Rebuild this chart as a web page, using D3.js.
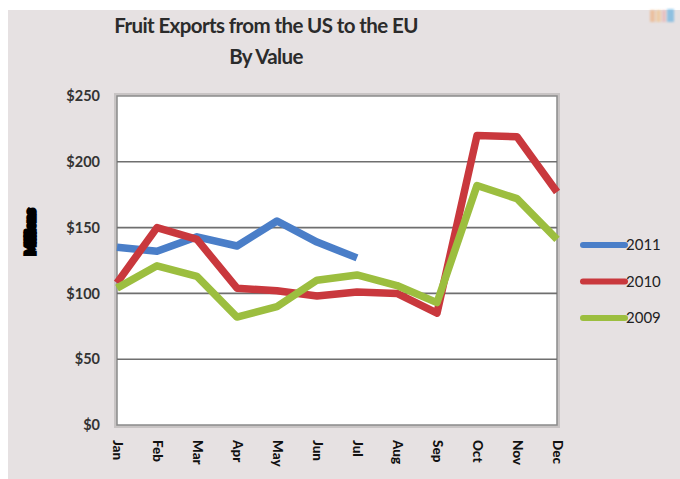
<!DOCTYPE html>
<html>
<head>
<meta charset="utf-8">
<script src="https://cdn.jsdelivr.net/npm/d3@7"></script>
<style>
  html, body { margin: 0; padding: 0; background: #ffffff; }
  svg { display: block; }
</style>
</head>
<body>
<svg id="chart" width="680" height="479"></svg>
<script>
// Monthly fruit export values (millions of dollars)
const months = ["Jan", "Feb", "Mar", "Apr", "May", "Jun", "Jul", "Aug", "Sep", "Oct", "Nov", "Dec"];
const values2011 = [135, 132, 143, 136, 155, 139, 127];
const values2010 = [108, 150, 141, 104, 102, 98, 101, 100, 85, 220, 219, 177];
const values2009 = [104, 121, 113, 82, 90, 110, 114, 106, 93, 182, 172, 141];
const seriesNames = ["2011", "2010", "2009"];
const yTicks = [0, 50, 100, 150, 200, 250];

const colors = { "2011": "#4a7ec8", "2010": "#c9383d", "2009": "#9cbe3f" };
const series = [
  { name: "2011", values: values2011 },
  { name: "2010", values: values2010 },
  { name: "2009", values: values2009 }
];

const svg = d3.select("#chart");
const W = 680, H = 479;

// Outer chart background with thin white margin on top/left
svg.append("rect").attr("x", 0).attr("y", 0).attr("width", W).attr("height", H).attr("fill", "#ffffff");
svg.append("rect").attr("x", 8).attr("y", 10).attr("width", W - 8).attr("height", H - 10).attr("fill", "#e6e1e2");

// Small logo mark in the top-right corner
const logo = svg.append("g").attr("opacity", 0.5).style("filter", "blur(1px)");
logo.append("rect").attr("x", 650).attr("y", 10).attr("width", 5).attr("height", 12).attr("fill", "#f0a060");
logo.append("rect").attr("x", 656).attr("y", 10).attr("width", 5).attr("height", 12).attr("fill", "#f4b870");
logo.append("rect").attr("x", 662).attr("y", 10).attr("width", 4).attr("height", 12).attr("fill", "#e8a0a0");
logo.append("rect").attr("x", 667).attr("y", 9).attr("width", 7).attr("height", 13).attr("fill", "#3aa0e0");

// Plot area
const plot = { left: 117, right: 557, top: 96, bottom: 425 };

const x = d3.scalePoint().domain(months).range([plot.left, plot.right]);
const y = d3.scaleLinear().domain([0, 250]).range([plot.bottom, plot.top]);

svg.append("rect")
  .attr("x", plot.left - 1).attr("y", plot.top - 1)
  .attr("width", plot.right - plot.left + 2).attr("height", plot.bottom - plot.top + 2)
  .attr("fill", "none").attr("stroke", "#c8c4c4").attr("stroke-width", 4);
svg.append("rect")
  .attr("x", plot.left).attr("y", plot.top)
  .attr("width", plot.right - plot.left).attr("height", plot.bottom - plot.top)
  .attr("fill", "#ffffff").attr("stroke", "#8a8a8a").attr("stroke-width", 1.5);

// Horizontal gridlines
svg.append("g")
  .selectAll("line")
  .data(yTicks.filter(d => d > 0 && d < 250))
  .join("line")
  .attr("x1", plot.left).attr("x2", plot.right)
  .attr("y1", d => y(d)).attr("y2", d => y(d))
  .attr("stroke", "#6f6f6f").attr("stroke-width", 1.6);

// Y axis tick labels
const yAxis = d3.axisLeft(y).tickValues(yTicks).tickFormat(d => "$" + d).tickSize(0).tickPadding(17);
const yg = svg.append("g").attr("transform", `translate(${plot.left},0)`).call(yAxis);
yg.select(".domain").remove();
yg.selectAll("text")
  .attr("font-family", "Lato, 'Open Sans', sans-serif")
  .attr("font-size", 14.5).attr("font-weight", "bold").attr("fill", "#333333");

// X axis month labels, rotated
const xAxis = d3.axisBottom(x).tickSize(0).tickPadding(0);
const xg = svg.append("g").attr("transform", `translate(0,${plot.bottom})`).call(xAxis);
xg.select(".domain").remove();
xg.selectAll("text")
  .attr("font-family", "Lato, 'Open Sans', sans-serif")
  .attr("font-size", 13.5).attr("font-weight", "900").attr("fill", "#111111")
  .attr("text-anchor", "start")
  .attr("dy", "0.35em")
  .attr("transform", "translate(0,15) rotate(90)");

// Series lines
const line = d3.line()
  .x((d, i) => x(months[i]))
  .y(d => y(d));

svg.append("g")
  .selectAll("path")
  .data(series)
  .join("path")
  .attr("d", d => line(d.values))
  .attr("fill", "none")
  .attr("stroke", d => colors[d.name])
  .attr("stroke-width", 7.5)
  .attr("stroke-linejoin", "round")
  .attr("stroke-linecap", "butt");

// Legend
const legendY = d3.scalePoint().domain(seriesNames).range([245, 318]);
const legend = svg.append("g");
legend.selectAll("line")
  .data(seriesNames)
  .join("line")
  .attr("x1", 583).attr("x2", 625)
  .attr("y1", d => legendY(d)).attr("y2", d => legendY(d))
  .attr("stroke", d => colors[d]).attr("stroke-width", 6)
  .attr("stroke-linecap", "round");
legend.selectAll("text")
  .data(seriesNames)
  .join("text")
  .attr("x", 626).attr("y", d => legendY(d))
  .attr("dy", "0.36em")
  .attr("font-family", "Lato, 'Open Sans', sans-serif")
  .attr("font-size", 15).attr("fill", "#222222")
  .text(d => d);

// Y axis title
svg.append("text")
  .attr("transform", "translate(30,232) rotate(-90)")
  .attr("text-anchor", "middle").attr("dy", "0.35em")
  .attr("font-family", "Lato, 'Open Sans', sans-serif")
  .attr("font-size", 13).attr("font-weight", "900")
  .attr("fill", "#000000").attr("stroke", "#000000").attr("stroke-width", 3.5)
  .text("Millions");

// Chart title
const title = svg.append("text")
  .attr("text-anchor", "middle")
  .attr("font-family", "Lato, 'Open Sans', sans-serif")
  .attr("font-size", 20.5).attr("font-weight", "bold").attr("fill", "#2b2b2b")
  .attr("letter-spacing", -0.6);
title.append("tspan").attr("x", 266).attr("y", 33).text("Fruit Exports from the US to the EU");
title.append("tspan").attr("x", 266).attr("y", 64).text("By Value");
</script>
</body>
</html>
